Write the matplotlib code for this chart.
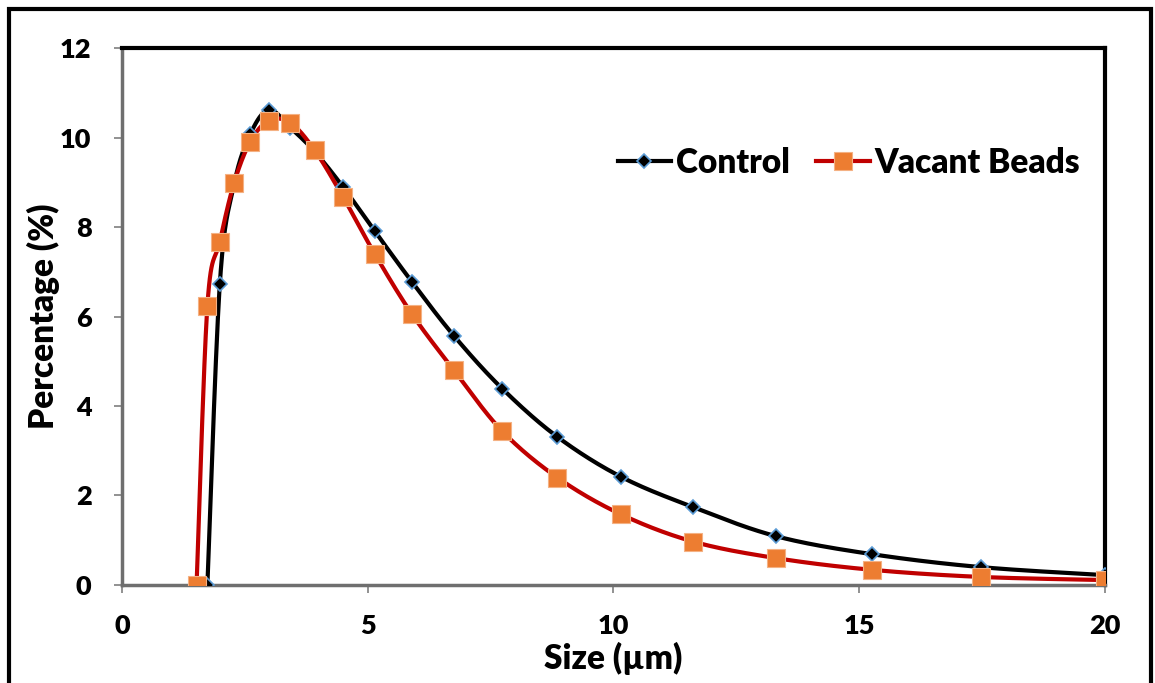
import numpy as np
from matplotlib import pyplot as plt
from matplotlib.patches import Rectangle

# particle size bins (um) and percentage
size_control = [1.738, 1.991, 2.280, 2.612, 2.991, 3.426, 3.924, 4.494, 5.148, 5.896,
                6.753, 7.735, 8.859, 10.15, 11.62, 13.31, 15.25, 17.47, 20.00]
pct_control = [0.0, 6.73, 8.95, 10.08, 10.62, 10.22, 9.68, 8.90, 7.90, 6.78,
               5.57, 4.39, 3.31, 2.42, 1.74, 1.09, 0.69, 0.40, 0.22]

size_vacant = [1.518, 1.738, 1.991, 2.280, 2.612, 2.991, 3.426, 3.924, 4.494, 5.148,
               5.896, 6.753, 7.735, 8.859, 10.15, 11.62, 13.31, 15.25, 17.47, 20.00]
pct_vacant = [0.0, 6.24, 7.67, 8.98, 9.91, 10.38, 10.33, 9.71, 8.68, 7.39,
              6.06, 4.80, 3.44, 2.40, 1.58, 0.97, 0.60, 0.34, 0.18, 0.11]

xticks = [0, 5, 10, 15, 20]
yticks = [0, 2, 4, 6, 8, 10, 12]


def smooth(x, y, n=30):
    # Catmull-Rom style smoothing like the spreadsheet's "smoothed line"
    x = np.asarray(x, float)
    y = np.asarray(y, float)
    px = np.concatenate([[x[0]], x, [x[-1]]])
    py = np.concatenate([[y[0]], y, [y[-1]]])
    xs, ys = [], []
    t = np.linspace(0, 1, n)
    for i in range(1, len(px) - 2):
        p0 = np.array([px[i], py[i]])
        p3 = np.array([px[i + 1], py[i + 1]])
        c1 = p0 + (np.array([px[i + 1], py[i + 1]]) - np.array([px[i - 1], py[i - 1]])) / 6
        c2 = p3 - (np.array([px[i + 2], py[i + 2]]) - np.array([px[i], py[i]])) / 6
        b = ((1 - t) ** 3)[:, None] * p0 + (3 * (1 - t) ** 2 * t)[:, None] * c1 \
            + (3 * (1 - t) * t ** 2)[:, None] * c2 + (t ** 3)[:, None] * p3
        xs.extend(b[:, 0])
        ys.extend(b[:, 1])
    return xs, ys


plt.rcParams['font.family'] = ['Lato', 'DejaVu Sans']
plt.rcParams['font.weight'] = 'heavy'

fig = plt.figure(figsize=(11.55, 6.83), dpi=100)
ax = fig.add_axes([0.1056, 0.1435, 0.8511, 0.7862])

sx, sy = smooth(size_control, pct_control)
ax.plot(sx, sy, color='black', lw=3, zorder=3)
ax.plot(size_control, pct_control, ls='none', marker='D', ms=7, mfc='black',
        mec='#5B9BD5', mew=1.2, zorder=5)

sx, sy = smooth(size_vacant, pct_vacant)
ax.plot(sx, sy, color='#C00000', lw=3, zorder=4)
ax.plot(size_vacant, pct_vacant, ls='none', marker='s', ms=13, mfc='#ED7D31',
        mec='#F4B183', mew=0.8, zorder=6)

# legend proxies
h1, = ax.plot([], [], color='black', lw=3, marker='D', ms=7, mfc='black',
              mec='#5B9BD5', mew=1.2, label='Control')
h2, = ax.plot([], [], color='#C00000', lw=3, marker='s', ms=13, mfc='#ED7D31',
              mec='#F4B183', mew=0.8, label='Vacant Beads')
ax.legend(handles=[h1, h2], loc='center right', bbox_to_anchor=(0.975, 0.786),
          ncol=2, frameon=False, handlelength=1.6,
          handletextpad=0.15, columnspacing=0.8, borderpad=0, borderaxespad=0,
          prop={'weight': 'heavy', 'size': 24})

ax.set_xlim(0, 20)
ax.set_ylim(0, 12)
ax.set_xticks(xticks)
ax.set_yticks(yticks)
ax.tick_params(labelsize=19.5, colors='#7F7F7F', length=6, width=1.2)
ax.tick_params(axis='x', pad=15)
ax.tick_params(axis='y', pad=16)
for lab in ax.get_xticklabels() + ax.get_yticklabels():
    lab.set_color('black')
    lab.set_fontweight('heavy')

ax.spines['top'].set_linewidth(3)
ax.spines['right'].set_linewidth(3)
ax.spines['top'].set_color('black')
ax.spines['right'].set_color('black')
ax.spines['left'].set_linewidth(2.5)
ax.spines['bottom'].set_linewidth(2.5)
ax.spines['left'].set_color('#6F6F6F')
ax.spines['bottom'].set_color('#6F6F6F')

ax.set_xlabel('Size (µm)', fontsize=24, fontweight='heavy')
ax.set_ylabel('Percentage (%)', fontsize=24, fontweight='heavy')
ax.xaxis.set_label_coords(0.5, -0.106)
ax.yaxis.set_label_coords(-0.063, 0.5)

# outer border around the chart area
fig.patches.append(Rectangle((9 / 1155, -0.05), 1142 / 1155, 1.05 - 9 / 683,
                             transform=fig.transFigure, fill=False,
                             edgecolor='black', lw=3))

fig.savefig('out.png', dpi=100)
